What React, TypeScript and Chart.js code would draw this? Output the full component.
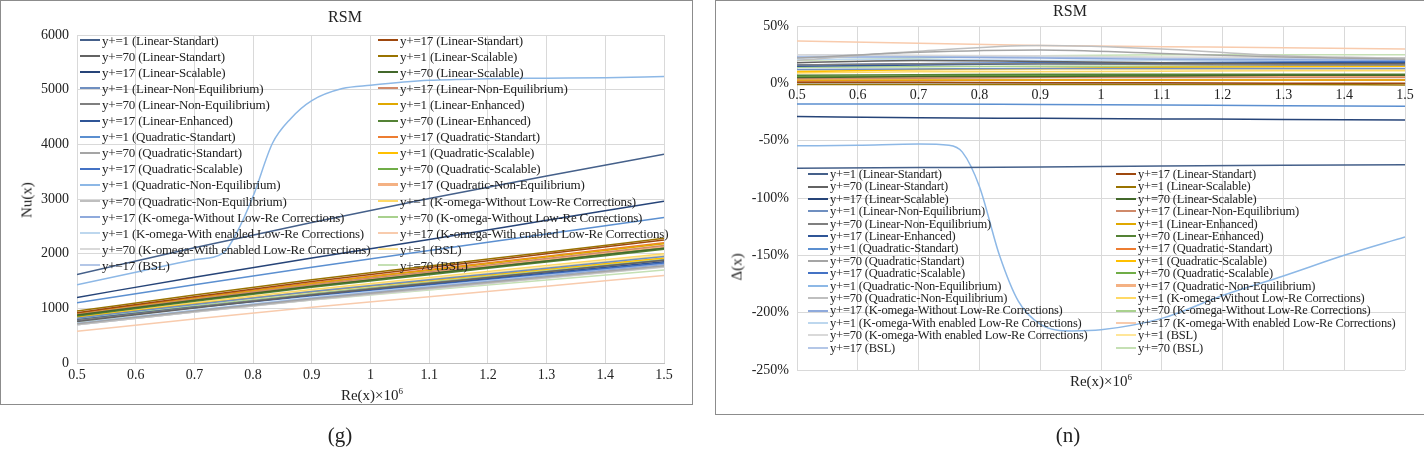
import React, { useEffect, useRef } from "react";
import { Chart, registerables } from "chart.js";
Chart.register(...registerables);

const names: string[] = [
  "y+=1 (Linear-Standart)", "y+=17 (Linear-Standart)", "y+=70 (Linear-Standart)",
  "y+=1 (Linear-Scalable)", "y+=17 (Linear-Scalable)", "y+=70 (Linear-Scalable)",
  "y+=1 (Linear-Non-Equilibrium)", "y+=17 (Linear-Non-Equilibrium)", "y+=70 (Linear-Non-Equilibrium)",
  "y+=1 (Linear-Enhanced)", "y+=17 (Linear-Enhanced)", "y+=70 (Linear-Enhanced)",
  "y+=1 (Quadratic-Standart)", "y+=17 (Quadratic-Standart)", "y+=70 (Quadratic-Standart)",
  "y+=1 (Quadratic-Scalable)", "y+=17 (Quadratic-Scalable)", "y+=70 (Quadratic-Scalable)",
  "y+=1 (Quadratic-Non-Equilibrium)", "y+=17 (Quadratic-Non-Equilibrium)", "y+=70 (Quadratic-Non-Equilibrium)",
  "y+=1 (K-omega-Without Low-Re Corrections)", "y+=17 (K-omega-Without Low-Re Corrections)", "y+=70 (K-omega-Without Low-Re Corrections)",
  "y+=1 (K-omega-With enabled Low-Re Corrections)", "y+=17 (K-omega-With enabled Low-Re Corrections)", "y+=70 (K-omega-With enabled Low-Re Corrections)",
  "y+=1 (BSL)", "y+=17 (BSL)", "y+=70 (BSL)",
];
const colors: string[] = [
  "#45608a", "#9E480E", "#636363", "#997300", "#264478", "#43682B",
  "#6F8FC0", "#D08A6A", "#7F7F7F", "#E0A800", "#2F5597", "#548235",
  "#5B8FD0", "#ED7D31", "#A5A5A5", "#FFC000", "#4472C4", "#70AD47",
  "#8DB8E6", "#F4B183", "#BFBFBF", "#FFD966", "#8FAADC", "#A9D18E",
  "#BDD7EE", "#F8CBAD", "#D9D9D9", "#FFE699", "#B4C7E7", "#C5E0B4",
];
const widths: number[] = names.map((_, i) => (i === 19 ? 2.5 : 1.5));

const reX: number[] = [0.5, 0.7, 0.9, 1.1, 1.3, 1.5];
const reXFine: number[] = [0.5, 0.6, 0.7, 0.75, 0.772, 0.8, 0.833, 0.864, 0.9, 0.952, 1.0, 1.1, 1.2, 1.3, 1.4, 1.5];
const SPECIAL = 18;

const nu: number[][] = [
  [1620, 2110, 2570, 3010, 3420, 3820],
  [920, 1213, 1492, 1745, 1997, 2250],
  [760, 1006, 1242, 1454, 1667, 1880],
  [950, 1243, 1522, 1775, 2027, 2280],
  [1200, 1570, 1920, 2260, 2610, 2960],
  [880, 1148, 1405, 1636, 1868, 2100],
  [820, 1069, 1306, 1521, 1735, 1950],
  [890, 1167, 1432, 1671, 1911, 2150],
  [780, 1022, 1253, 1462, 1671, 1880],
  [900, 1182, 1450, 1694, 1937, 2180],
  [790, 1023, 1246, 1447, 1649, 1850],
  [860, 1128, 1385, 1616, 1848, 2080],
  [1100, 1430, 1750, 2060, 2360, 2660],
  [910, 1194, 1465, 1710, 1955, 2200],
  [720, 953, 1176, 1377, 1579, 1780],
  [840, 1078, 1304, 1510, 1715, 1920],
  [780, 1011, 1232, 1431, 1631, 1830],
  [870, 1141, 1399, 1633, 1866, 2100],
  [1430, 1660, 1890, 2020, 2380, 3050, 4020, 4470, 4800, 5020, 5080, 5170, 5200, 5210, 5220, 5240],
  [880, 1153, 1413, 1649, 1884, 2120],
  [700, 933, 1156, 1357, 1559, 1760],
  [850, 1103, 1345, 1563, 1782, 2000],
  [720, 958, 1184, 1390, 1595, 1800],
  [800, 1042, 1273, 1482, 1691, 1900],
  [730, 970, 1199, 1406, 1613, 1820],
  [580, 804, 1019, 1212, 1406, 1600],
  [700, 931, 1152, 1351, 1551, 1750],
  [830, 1081, 1320, 1537, 1753, 1970],
  [700, 935, 1160, 1363, 1567, 1770],
  [740, 951, 1153, 1335, 1518, 1700],
];
const delta: number[][] = [
  [-74, -73.5, -73, -72, -71.5, -71],
  [1, 1, 0.5, 0.5, 0, 0],
  [18, 20, 19, 18, 17, 17],
  [-1, -1, -1, -1, -1, -1.5],
  [-29, -30, -30.5, -31, -31.5, -32],
  [5, 6, 6, 6.5, 7, 7],
  [12, 12.5, 13, 13, 13, 13],
  [4, 4.5, 5, 5, 5, 5],
  [16, 17, 17, 16.5, 16, 16],
  [3, 3, 3, 3, 3, 3],
  [15, 16, 17, 17, 18, 18],
  [7, 7.5, 8, 8, 8, 8],
  [-18, -18, -18.5, -19, -19.5, -20],
  [2, 2.5, 3, 3, 3, 3],
  [22, 27, 29, 26, 23, 21],
  [10, 12, 13, 14, 14.5, 15],
  [16, 17, 18, 18, 18.5, 19],
  [6, 6.5, 7, 7, 7, 7],
  [-54.5, -54, -53, -54, -60, -90, -150, -190, -210, -216, -215, -205, -185, -168, -150, -134],
  [5, 5.5, 6, 6, 6, 6],
  [20, 28, 33, 30, 24, 22],
  [9, 10, 10, 10.5, 11, 11],
  [23, 23, 22, 21, 20.5, 20],
  [14, 14.5, 15, 15, 15, 15],
  [21, 21, 20, 20, 19.5, 19],
  [37, 35, 33, 32, 31, 30],
  [25, 24.5, 24, 23, 22.5, 22],
  [11, 11.5, 12, 12, 12, 12],
  [25, 24, 23, 22, 21.5, 21],
  [20, 22, 24, 25, 25, 25],
];

const SERIF = "'Liberation Serif', 'Times New Roman', serif";

function makeDatasets(values: number[][]) {
  return values.map((v, i) => {
    const xs = i === SPECIAL ? reXFine : reX;
    return {
      label: names[i],
      data: xs.map((x, k) => ({ x, y: v[k] })),
      borderColor: colors[i],
      backgroundColor: colors[i],
      borderWidth: widths[i],
      pointRadius: 0,
      cubicInterpolationMode: "monotone" as const,
      fill: false,
    };
  });
}

function Legend({ left, top, col2, rowH, fontSize, lineW }: { left: number; top: number; col2: number; rowH: number; fontSize: number; lineW: number }) {
  return (
    <>
      {names.map((n, i) => {
        const col = i % 2;
        const row = Math.floor(i / 2);
        return (
          <div key={i} style={{ position: "absolute", left: col ? col2 : left, top: top + row * rowH, height: rowH, display: "flex", alignItems: "center", fontFamily: SERIF, fontSize, color: "#222", whiteSpace: "nowrap", lineHeight: 1, letterSpacing: -0.2 }}>
            <span style={{ display: "inline-block", width: lineW, height: 0, borderTop: `${widths[i] + 0.5}px solid ${colors[i]}`, marginRight: 2 }} />
            {n}
          </div>
        );
      })}
    </>
  );
}

function Panel({ kind }: { kind: "nu" | "delta" }) {
  const ref = useRef<HTMLCanvasElement>(null);
  useEffect(() => {
    const isNu = kind === "nu";
    const tickFont = { family: SERIF, size: 14 };
    const chart = new Chart(ref.current!, {
      type: "line",
      data: { datasets: makeDatasets(isNu ? nu : delta) as any },
      options: {
        animation: false,
        responsive: true,
        maintainAspectRatio: false,
        layout: { padding: isNu ? { left: 0, top: 35, right: 28, bottom: 0 } : { left: 0, top: 26, right: 19, bottom: 44 } },
        plugins: { legend: { display: false }, tooltip: { enabled: false } },
        scales: {
          x: {
            type: "linear",
            min: 0.5,
            max: 1.5,
            position: isNu ? "bottom" : ({ y: 0 } as any),
            ticks: { stepSize: 0.1, font: tickFont, color: "#222", padding: 4, callback: (v: any) => String(Math.round(Number(v) * 10) / 10) },
            grid: { color: "#d9d9d9", drawTicks: false },
            border: { color: "#bfbfbf" },
            afterFit: (s: any) => { if (isNu) s.height = 41; },
          },
          y: {
            min: isNu ? 0 : -250,
            max: isNu ? 6000 : 50,
            ticks: { stepSize: isNu ? 1000 : 50, font: tickFont, color: "#222", padding: 8, callback: (v: any) => (isNu ? String(v) : `${v}%`) },
            grid: { color: "#d9d9d9", drawTicks: false },
            border: { display: false },
            afterFit: (s: any) => { s.width = isNu ? 77 : 82; },
          },
        },
      },
    });
    return () => chart.destroy();
  }, [kind]);
  return <canvas ref={ref} />;
}

export default function App() {
  const txt = { position: "absolute" as const, fontFamily: SERIF, color: "#222", whiteSpace: "nowrap" as const };
  return (
    <div style={{ position: "absolute", left: 0, top: 0, width: 1424, height: 456, background: "#fff", overflow: "hidden" }}>
      <div style={{ position: "absolute", left: 0, top: 0, width: 691, height: 403, border: "1px solid #8c8c8c" }} />
      <div style={{ position: "absolute", left: 715, top: 0, width: 720, height: 413, border: "1px solid #8c8c8c" }} />
      <div style={{ position: "absolute", left: 0, top: 0, width: 692, height: 404 }}>
        <Panel kind="nu" />
      </div>
      <div style={{ position: "absolute", left: 715, top: 0, width: 709, height: 414 }}>
        <Panel kind="delta" />
      </div>
      <div style={{ ...txt, left: 345, top: 8, fontSize: 16, transform: "translateX(-50%)" }}>RSM</div>
      <div style={{ ...txt, left: 1070, top: 2, fontSize: 16, transform: "translateX(-50%)" }}>RSM</div>
      <div style={{ ...txt, left: 372, top: 386, fontSize: 15, transform: "translateX(-50%)" }}>Re(x)×10<sup style={{ fontSize: 9 }}>6</sup></div>
      <div style={{ ...txt, left: 1101, top: 372, fontSize: 15, transform: "translateX(-50%)" }}>Re(x)×10<sup style={{ fontSize: 9 }}>6</sup></div>
      <div style={{ ...txt, left: 27, top: 200, fontSize: 15, transform: "translate(-50%,-50%) rotate(-90deg)" }}>Nu(x)</div>
      <div style={{ ...txt, left: 737, top: 267, fontSize: 15, transform: "translate(-50%,-50%) rotate(-90deg)" }}>Δ(x)</div>
      <div style={{ ...txt, left: 340, top: 423, fontSize: 21, transform: "translateX(-50%)" }}>(g)</div>
      <div style={{ ...txt, left: 1068, top: 423, fontSize: 21, transform: "translateX(-50%)" }}>(n)</div>
      <Legend left={80} top={32} col2={378} rowH={16.1} fontSize={13} lineW={20} />
      <Legend left={808} top={168} col2={1116} rowH={12.4} fontSize={12.5} lineW={20} />
    </div>
  );
}
